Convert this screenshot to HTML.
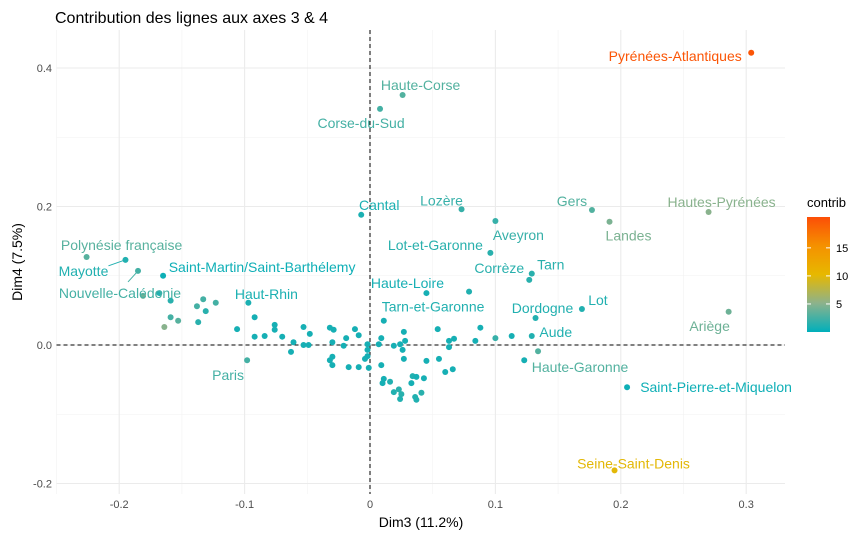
<!DOCTYPE html>
<html><head><meta charset="utf-8">
<style>
body{margin:0;background:#fff;}
svg{display:block;font-family:"Liberation Sans",sans-serif;}
</style></head>
<body>
<svg id="chart" width="866" height="538" viewBox="0 0 866 538" xmlns="http://www.w3.org/2000/svg">
<rect width="866" height="538" fill="#fff"/>
<text x="55" y="23" font-size="16" fill="#000">Contribution des lignes aux axes 3 &amp; 4</text>
<g id="grid"></g>
<g id="axes"></g>
<g id="points"></g>
<g id="labels"></g>
<text x="421" y="527" font-size="14" text-anchor="middle" fill="#000">Dim3 (11.2%)</text>
<text transform="translate(22,262) rotate(-90)" font-size="14" text-anchor="middle" fill="#000">Dim4 (7.5%)</text>
<g id="legend">
<text x="807" y="207" font-size="13" fill="#000">contrib</text>
<defs><linearGradient id="cg" x1="0" y1="1" x2="0" y2="0">
<stop offset="0" stop-color="#00AFBB"/><stop offset="0.25" stop-color="rgb(140,178,140)"/><stop offset="0.5" stop-color="#E7B800"/><stop offset="0.75" stop-color="rgb(245,145,0)"/><stop offset="1" stop-color="#FC4E07"/></linearGradient></defs>
<rect x="807" y="217" width="23" height="115" fill="url(#cg)"/>
</g>
</svg>
<script>
const xTicks=[-0.2,-0.1,0,0.1,0.2,0.3];
const xMinor=[-0.25,-0.15,-0.05,0.05,0.15,0.25];
const yTicks=[-0.2,0,0.2,0.4];
const yMinor=[-0.1,0.1,0.3];
const legendTicks=[5,10,15];
const labNames=["Pyrénées-Atlantiques","Haute-Corse","Corse-du-Sud","Cantal","Lozère","Gers","Landes","Hautes-Pyrénées","Aveyron","Lot-et-Garonne","Tarn","Corrèze","Haute-Loire","Tarn-et-Garonne","Dordogne","Lot","Aude","Ariège","Haute-Garonne","Saint-Pierre-et-Miquelon","Seine-Saint-Denis","Paris","Haut-Rhin","Saint-Martin/Saint-Barthélemy","Polynésie française","Mayotte","Nouvelle-Calédonie"];
const labX=[0.304,0.026,0.008,-0.007,0.073,0.177,0.191,0.270,0.100,0.096,0.129,0.127,0.045,0.079,0.132,0.169,0.129,0.286,0.134,0.205,0.195,-0.098,-0.097,-0.165,-0.226,-0.195,-0.185];
const labY=[0.422,0.361,0.341,0.188,0.196,0.195,0.178,0.192,0.179,0.133,0.103,0.094,0.075,0.077,0.039,0.052,0.013,0.048,-0.009,-0.061,-0.181,-0.022,0.061,0.100,0.127,0.123,0.107];
const labC=[20,3,2.5,1,2,3,4.5,5,2,1.5,1.5,1.5,0.8,1.2,1.2,1.2,1.2,4,3,0.5,10,2.5,1,0.5,3.2,1.2,2.5];
const labOff=[[-76,3],[18,-10],[-19,14],[18,-10],[-20,-9],[-20,-9],[19,14],[13,-10],[23,14],[-55,-8],[19,-9],[-30,-12],[-19,-10],[-36,15],[7,-10],[16,-9],[24,-4],[-19,14],[42,16],[89,0],[19,-7],[-19,15],[18,-9],[99,-9],[35,-12],[-42,11],[-18,22]];
const ptX=[-0.181,-0.168,-0.159,-0.164,-0.159,-0.153,-0.138,-0.133,-0.131,-0.123,-0.137,-0.106,-0.092,-0.092,-0.084,-0.076,-0.076,-0.070,-0.063,-0.061,-0.053,-0.048,-0.053,-0.049,-0.032,-0.029,-0.030,-0.032,-0.030,-0.030,-0.012,-0.009,-0.019,-0.021,-0.017,-0.009,-0.002,-0.002,-0.002,-0.004,-0.001,0.011,0.009,0.007,0.009,0.011,0.010,0.016,0.019,0.024,0.027,0.028,0.026,0.027,0.019,0.023,0.025,0.024,0.033,0.034,0.037,0.043,0.041,0.036,0.037,0.045,0.054,0.055,0.060,0.063,0.063,0.067,0.066,0.088,0.084,0.100,0.113,0.123];
const ptY=[0.071,0.075,0.064,0.026,0.040,0.035,0.056,0.066,0.049,0.061,0.033,0.023,0.040,0.012,0.013,0.029,0.022,0.012,-0.010,0.004,0.026,0.016,0.000,0.000,0.025,0.022,0.004,-0.022,-0.017,-0.029,0.023,0.014,0.010,-0.001,-0.032,-0.032,0.001,-0.007,-0.016,-0.020,-0.033,0.035,0.010,0.001,-0.029,-0.049,-0.055,-0.053,-0.001,0.001,0.019,0.006,-0.007,-0.020,-0.068,-0.064,-0.071,-0.078,-0.055,-0.045,-0.046,-0.048,-0.069,-0.075,-0.079,-0.023,0.023,-0.020,-0.039,0.006,-0.003,0.009,-0.035,0.025,0.006,0.010,0.013,-0.022];
const ptC=[4,1.2,1.5,5,2.5,3.2,2.5,2.5,1.5,2.5,1.5,0.8,0.8,0.8,0.8,0.8,0.8,0.8,0.8,0.8,0.8,0.8,0.8,0.8,0.8,0.8,0.8,0.8,0.8,0.8,0.8,0.8,0.8,0.8,0.8,0.8,0.8,0.8,0.8,0.8,0.8,0.8,0.8,0.8,0.8,0.8,0.8,1.2,0.8,0.8,0.8,0.8,0.8,0.8,1.2,1.5,1.5,1.2,0.8,1.2,0.8,0.8,1.5,1.2,1.2,0.8,0.8,0.8,0.8,0.8,0.8,0.8,0.8,0.8,0.8,2,0.8,0.8];

const NS="http://www.w3.org/2000/svg";
const L=56.5,R=785,T=30,B=494;
function sx(v){return 370+v*1254;}
function sy(v){return 345-v*692.5;}
const cMin=0,cMax=20.5;
const stops=[[0,[0,175,187]],[0.25,[140,178,140]],[0.5,[231,184,0]],[0.75,[245,145,0]],[1,[252,78,7]]];
function lerp(a,b,t){return Math.round(a+(b-a)*t);}
function col(c){
  let t=Math.max(0,Math.min(1,(c-cMin)/(cMax-cMin)));
  for(let i=0;i<stops.length-1;i++){const s0=stops[i],s1=stops[i+1];
    if(t<=s1[0]){const u=(t-s0[0])/(s1[0]-s0[0]);const a=s0[1],b=s1[1];
      return `rgb(${lerp(a[0],b[0],u)},${lerp(a[1],b[1],u)},${lerp(a[2],b[2],u)})`;}}
  return 'rgb(252,78,7)';
}
function mk(tag,attrs,parent,text){const e=document.createElementNS(NS,tag);for(const k in attrs)e.setAttribute(k,attrs[k]);if(text!==undefined)e.textContent=text;parent.appendChild(e);return e;}
const grid=document.getElementById('grid'),axes=document.getElementById('axes'),pts=document.getElementById('points'),labs=document.getElementById('labels'),leg=document.getElementById('legend');
xMinor.forEach(v=>{const e=mk('line',{x1:sx(v),x2:sx(v),y1:T,y2:B,stroke:'#F2F2F2','stroke-width':0.6},grid);

});
yMinor.forEach(v=>{const e=mk('line',{x1:L,x2:R,y1:sy(v),y2:sy(v),stroke:'#F2F2F2','stroke-width':0.6},grid);

});
xTicks.forEach(v=>{const e=mk('line',{x1:sx(v),x2:sx(v),y1:T,y2:B,stroke:'#EBEBEB','stroke-width':1.1},grid);


const t=mk('text',{x:sx(v),y:508,'font-size':11,'text-anchor':'middle',fill:'#4D4D4D'},axes,String(v));

});
yTicks.forEach(v=>{const e=mk('line',{x1:L,x2:R,y1:sy(v),y2:sy(v),stroke:'#EBEBEB','stroke-width':1.1},grid);


const t=mk('text',{x:52,y:sy(v)+4,'font-size':11,'text-anchor':'end',fill:'#4D4D4D'},axes,v.toFixed(1));

});
let z=mk('line',{x1:sx(0),x2:sx(0),y1:T,y2:B,stroke:'#000','stroke-dasharray':'4,3'},axes);


z=mk('line',{x1:L,x2:R,y1:sy(0),y2:sy(0),stroke:'#000','stroke-dasharray':'4,3'},axes);


ptX.forEach((v,i)=>{const c=mk('circle',{cx:sx(v),cy:sy(ptY[i]),r:3,fill:col(ptC[i])},pts);

});
labNames.forEach((n,i)=>{const px=sx(labX[i]),py=sy(labY[i]),cl=col(labC[i]);
const c=mk('circle',{cx:px,cy:py,r:3,fill:cl},pts);


const tx=px+labOff[i][0],ty=py+labOff[i][1];
if(n==='Mayotte'||n==='Nouvelle-Calédonie'){const ln=mk('line',{x1:px,y1:py,x2:n==='Mayotte'?tx+25:tx+8,y2:n==='Mayotte'?ty-5:ty-11,stroke:cl,'stroke-width':1},labs);

}
const t=mk('text',{x:tx,y:ty+5,'font-size':14,'text-anchor':'middle',fill:cl},labs,n);

});
legendTicks.forEach(v=>{const y=332-(v-cMin)/(cMax-cMin)*115;
const a=mk('line',{x1:807,x2:811,y1:y,y2:y,stroke:'#fff'},leg);


const b=mk('line',{x1:826,x2:830,y1:y,y2:y,stroke:'#fff'},leg);


const t=mk('text',{x:836,y:y+4,'font-size':11,fill:'#000'},leg,String(v));

});
</script>
</body></html>
